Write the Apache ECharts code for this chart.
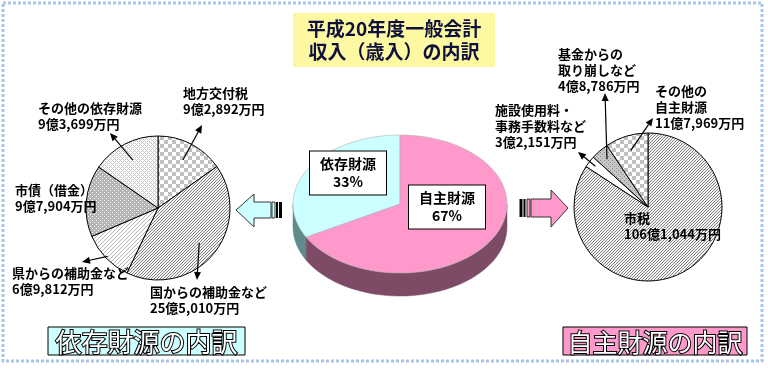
<!DOCTYPE html>
<html><head><meta charset="utf-8">
<script src="https://cdn.jsdelivr.net/npm/echarts@6/dist/echarts.min.js"></script>
<style>html,body{margin:0;padding:0;background:#fff}#c{width:768px;height:373px}</style>
</head><body><div id="c"></div>
<script>
// ---- data (values in 万円) ----
const leftNames = ['地方交付税','国からの補助金など','県からの補助金など','市債（借金）','その他の依存財源'];
const leftValues = [92892, 255010, 69812, 97904, 93699];
const rightNames = ['市税','施設使用料・\n事務手数料など','基金からの\n取り崩しなど','その他の\n自主財源'];
const rightValues = [1061044, 32151, 48786, 117969];
const centerNames = ['依存財源','自主財源'];
const centerValues = [33, 67]; // %
const titleLines = ['平成20年度一般会計','収入（歳入）の内訳'];
const leftCaption = '依存財源の内訳';
const rightCaption = '自主財源の内訳';

const FONT = '"Noto Sans CJK JP", sans-serif';

function pattern(w, h, bg, fg, test){
  const c = document.createElement('canvas'); c.width = w; c.height = h;
  const g = c.getContext('2d'); g.fillStyle = bg; g.fillRect(0,0,w,h); g.fillStyle = fg;
  for (let y=0;y<h;y++) for (let x=0;x<w;x++) if (test(x,y)) g.fillRect(x,y,1,1);
  return {image: c, repeat: 'repeat'};
}
const P = {
  check: pattern(8,8,'#ffffff','#c0c0c0',(x,y)=>((x>>2)+(y>>2))%2===0),
  diag: pattern(6,6,'#f4f4f4','#808080',(x,y)=>(x+y)%3===0),
  diagLight: pattern(4,4,'#ffffff','#b4b4b4',(x,y)=>(x+y)%4===0),
  dotsGray: pattern(4,4,'#b4b4b4','#ffffff',(x,y)=>(x===0&&y===0)||(x===2&&y===2)),
  weave: pattern(4,4,'#ffffff','#c8c8c8',(x,y)=>(x+y)%4===0||(x-y+8)%4===0),
  speckle: pattern(4,4,'#c6c6c6','#8a8a8a',(x,y)=>(x===0&&y===0)||(x===2&&y===2)),
  white: '#ffffff'
};
const leftFills = [P.check, P.diag, P.diagLight, P.dotsGray, P.weave];
const rightFills = [P.diag, P.white, P.speckle, P.check];

function fmtOku(v){
  const oku = Math.floor(v/10000), man = v % 10000;
  return oku + '億' + man.toLocaleString('en-US') + '万円';
}

// layout
const LC = [158, 208], LR = 72;
const RC = [648, 207], RR = 74;
const leftLabelPos = [[183,85],[150,284],[12,265],[15,182],[38,100]];
const rightLabelPos = [[624,210],[495,102],[558,46],[655,83]];
// arrows: [dataIndex, tail distance fraction, head x, head y]
const leftArrows = [[0,0.75,202,125],[1,0.75,197,280],[2,0.97,82,262],[4,0.75,110,133]];
const rightArrows = [[2,0.85,605,93],[3,0.8,653,118],[1,0.9,578,152]];

function midAngle(values, i){
  const total = values.reduce((a,b)=>a+b,0);
  let cum = 0; for (let j=0;j<i;j++) cum += values[j];
  return (cum + values[i]/2)/total*2*Math.PI; // clockwise from top
}
function arrowEls(values, center, r, list){
  const els = [];
  list.forEach(([i,f,hx,hy])=>{
    const a = midAngle(values,i);
    const tx = center[0] + r*f*Math.sin(a), ty = center[1] - r*f*Math.cos(a);
    const dx = hx-tx, dy = hy-ty, L = Math.hypot(dx,dy), ux = dx/L, uy = dy/L;
    const bx = hx - ux*8, by = hy - uy*8;
    els.push({type:'line', z:20, shape:{x1:tx,y1:ty,x2:bx,y2:by}, style:{stroke:'#000',lineWidth:1.2}});
    els.push({type:'polygon', z:20, shape:{points:[[hx,hy],[bx-uy*3.5,by+ux*3.5],[bx+uy*3.5,by-ux*3.5]]}, style:{fill:'#000'}});
  });
  return els;
}

// center 3D pie
const CC = [400, 204], CRX = 107, CRY = 69, DEPTH = 23;
const topColors = ['#ccffff','#ff99cc'];
const sideColors = ['#5f8b8d','#7e4b67'];
const centerBoxPos = [[348,173],[447,207]];
function ept(deg, dy){ const t = deg*Math.PI/180; return [CC[0]+CRX*Math.cos(t), CC[1]-CRY*Math.sin(t)+(dy||0)]; }
function renderCenter(params, api){
  const i = params.dataIndex;
  const total = centerValues.reduce((a,b)=>a+b,0);
  let start = 90; for (let j=0;j<i;j++) start += centerValues[j]/total*360;
  const end = start + centerValues[i]/total*360;
  const children = [];
  [[180,360],[540,720]].forEach(([lo,hi])=>{
    const a = Math.max(start,lo), b = Math.min(end,hi);
    if (b > a){
      const pts = [];
      for (let k=0;k<=40;k++) pts.push(ept(a+(b-a)*k/40));
      for (let k=40;k>=0;k--) pts.push(ept(a+(b-a)*k/40, DEPTH));
      children.push({type:'polygon', z2:1, shape:{points:pts}, style:{fill:sideColors[i], stroke:sideColors[i], lineWidth:0.5}});
    }
  });
  const tp = [[CC[0],CC[1]]];
  for (let k=0;k<=80;k++) tp.push(ept(start+(end-start)*k/80));
  children.push({type:'polygon', z2:5, shape:{points:tp}, style:{fill:topColors[i], stroke:'#b0b0b0', lineWidth:0.6}});
  children.push({type:'text', z2:10, x:centerBoxPos[i][0], y:centerBoxPos[i][1], style:{
    text: centerNames[i] + '\n' + api.value(0) + '%', fill:'#000', align:'center', verticalAlign:'middle',
    font:'bold 14px ' + FONT, lineHeight:18, backgroundColor:'#fff', borderColor:'#000', borderWidth:1, padding:[4,10,3,10]
  }});
  return {type:'group', children};
}

const labelCommon = {
  show:true, color:'#000', fontFamily:FONT, fontWeight:'bold', fontSize:13, lineHeight:16
};

function bigArrowLeft(fill){
  return [
    {type:'polygon', z:5, shape:{points:[[236,210],[254,194],[254,202],[271,202],[271,218],[254,218],[254,227]]}, style:{fill, stroke:'#333', lineWidth:1}},
    {type:'rect', z:5, shape:{x:272,y:202,width:3,height:16}, style:{fill, stroke:'#333', lineWidth:1}},
    {type:'rect', z:5, shape:{x:276,y:202,width:2,height:16}, style:{fill:'#000'}},
    {type:'rect', z:5, shape:{x:279,y:202,width:3,height:16}, style:{fill:'#000'}}
  ];
}
function bigArrowRight(fill){
  return [
    {type:'polygon', z:5, shape:{points:[[568,208],[551,190],[551,199],[531,199],[531,217],[551,217],[551,227]]}, style:{fill, stroke:'#333', lineWidth:1}},
    {type:'rect', z:5, shape:{x:527,y:199,width:3,height:18}, style:{fill, stroke:'#333', lineWidth:1}},
    {type:'rect', z:5, shape:{x:523.5,y:199,width:2,height:18}, style:{fill:'#000'}},
    {type:'rect', z:5, shape:{x:519.5,y:199,width:3,height:18}, style:{fill:'#000'}}
  ];
}
function caption(x, y, w, h, fill, text, size){
  return [
    {type:'rect', z:5, shape:{x,y,width:w,height:h}, style:{fill, stroke:'#000', lineWidth:1}},
    {type:'text', z:6, x:x+w/2, y:y+h/2+1, style:{text, align:'center', verticalAlign:'middle', font:size+'px ' + FONT, fill:'#fff', stroke:'#000', lineWidth:2}}
  ];
}

const chart = echarts.init(document.getElementById('c'), null, {renderer:'canvas'});
chart.setOption({
  animation:false,
  graphic:[
    {type:'rect', z:0, shape:{x:3,y:3,width:759,height:358}, style:{fill:'none', stroke:'#a8c6ea', lineWidth:3, lineDash:[3,2]}},
    {type:'rect', z:1, shape:{x:293,y:13,width:202,height:54}, style:{fill:'#fdf9a2'}},
    {type:'text', z:2, x:394, y:40, style:{text:titleLines.join('\n'), align:'center', verticalAlign:'middle', font:'bold 19px ' + FONT, lineHeight:23, fill:'#10103c'}},
    ...bigArrowLeft('#ccffff'),
    ...bigArrowRight('#ff99cc'),
    ...caption(48, 327, 197, 28, '#ccffff', leftCaption, 26),
    ...caption(563, 327, 184, 28, '#ff99cc', rightCaption, 25),
    ...arrowEls(leftValues, LC, LR, leftArrows),
    ...arrowEls(rightValues, RC, RR, rightArrows)
  ],
  series:[
    {
      type:'pie', center:LC, radius:LR, startAngle:90, clockwise:true, avoidLabelOverlap:false, silent:true,
      itemStyle:{borderColor:'#000', borderWidth:1},
      label:Object.assign({formatter:p=>p.name+'\n'+fmtOku(p.value)}, labelCommon),
      labelLine:{show:false},
      labelLayout:p=>({x:leftLabelPos[p.dataIndex][0], y:leftLabelPos[p.dataIndex][1], align:'left', verticalAlign:'top'}),
      data:leftNames.map((n,i)=>({name:n, value:leftValues[i], itemStyle:{color:leftFills[i]}}))
    },
    {
      type:'pie', center:RC, radius:RR, startAngle:90, clockwise:true, avoidLabelOverlap:false, silent:true,
      itemStyle:{borderColor:'#000', borderWidth:1},
      label:Object.assign({formatter:p=>p.name+'\n'+fmtOku(p.value)}, labelCommon),
      labelLine:{show:false},
      labelLayout:p=>({x:rightLabelPos[p.dataIndex][0], y:rightLabelPos[p.dataIndex][1], align:'left', verticalAlign:'top'}),
      data:rightNames.map((n,i)=>({name:n, value:rightValues[i], itemStyle:{color:rightFills[i]}}))
    },
    {
      type:'custom', coordinateSystem:'none', silent:true, renderItem:renderCenter,
      data:centerValues.map((v,i)=>({name:centerNames[i], value:[v]}))
    }
  ]
});
</script></body></html>
